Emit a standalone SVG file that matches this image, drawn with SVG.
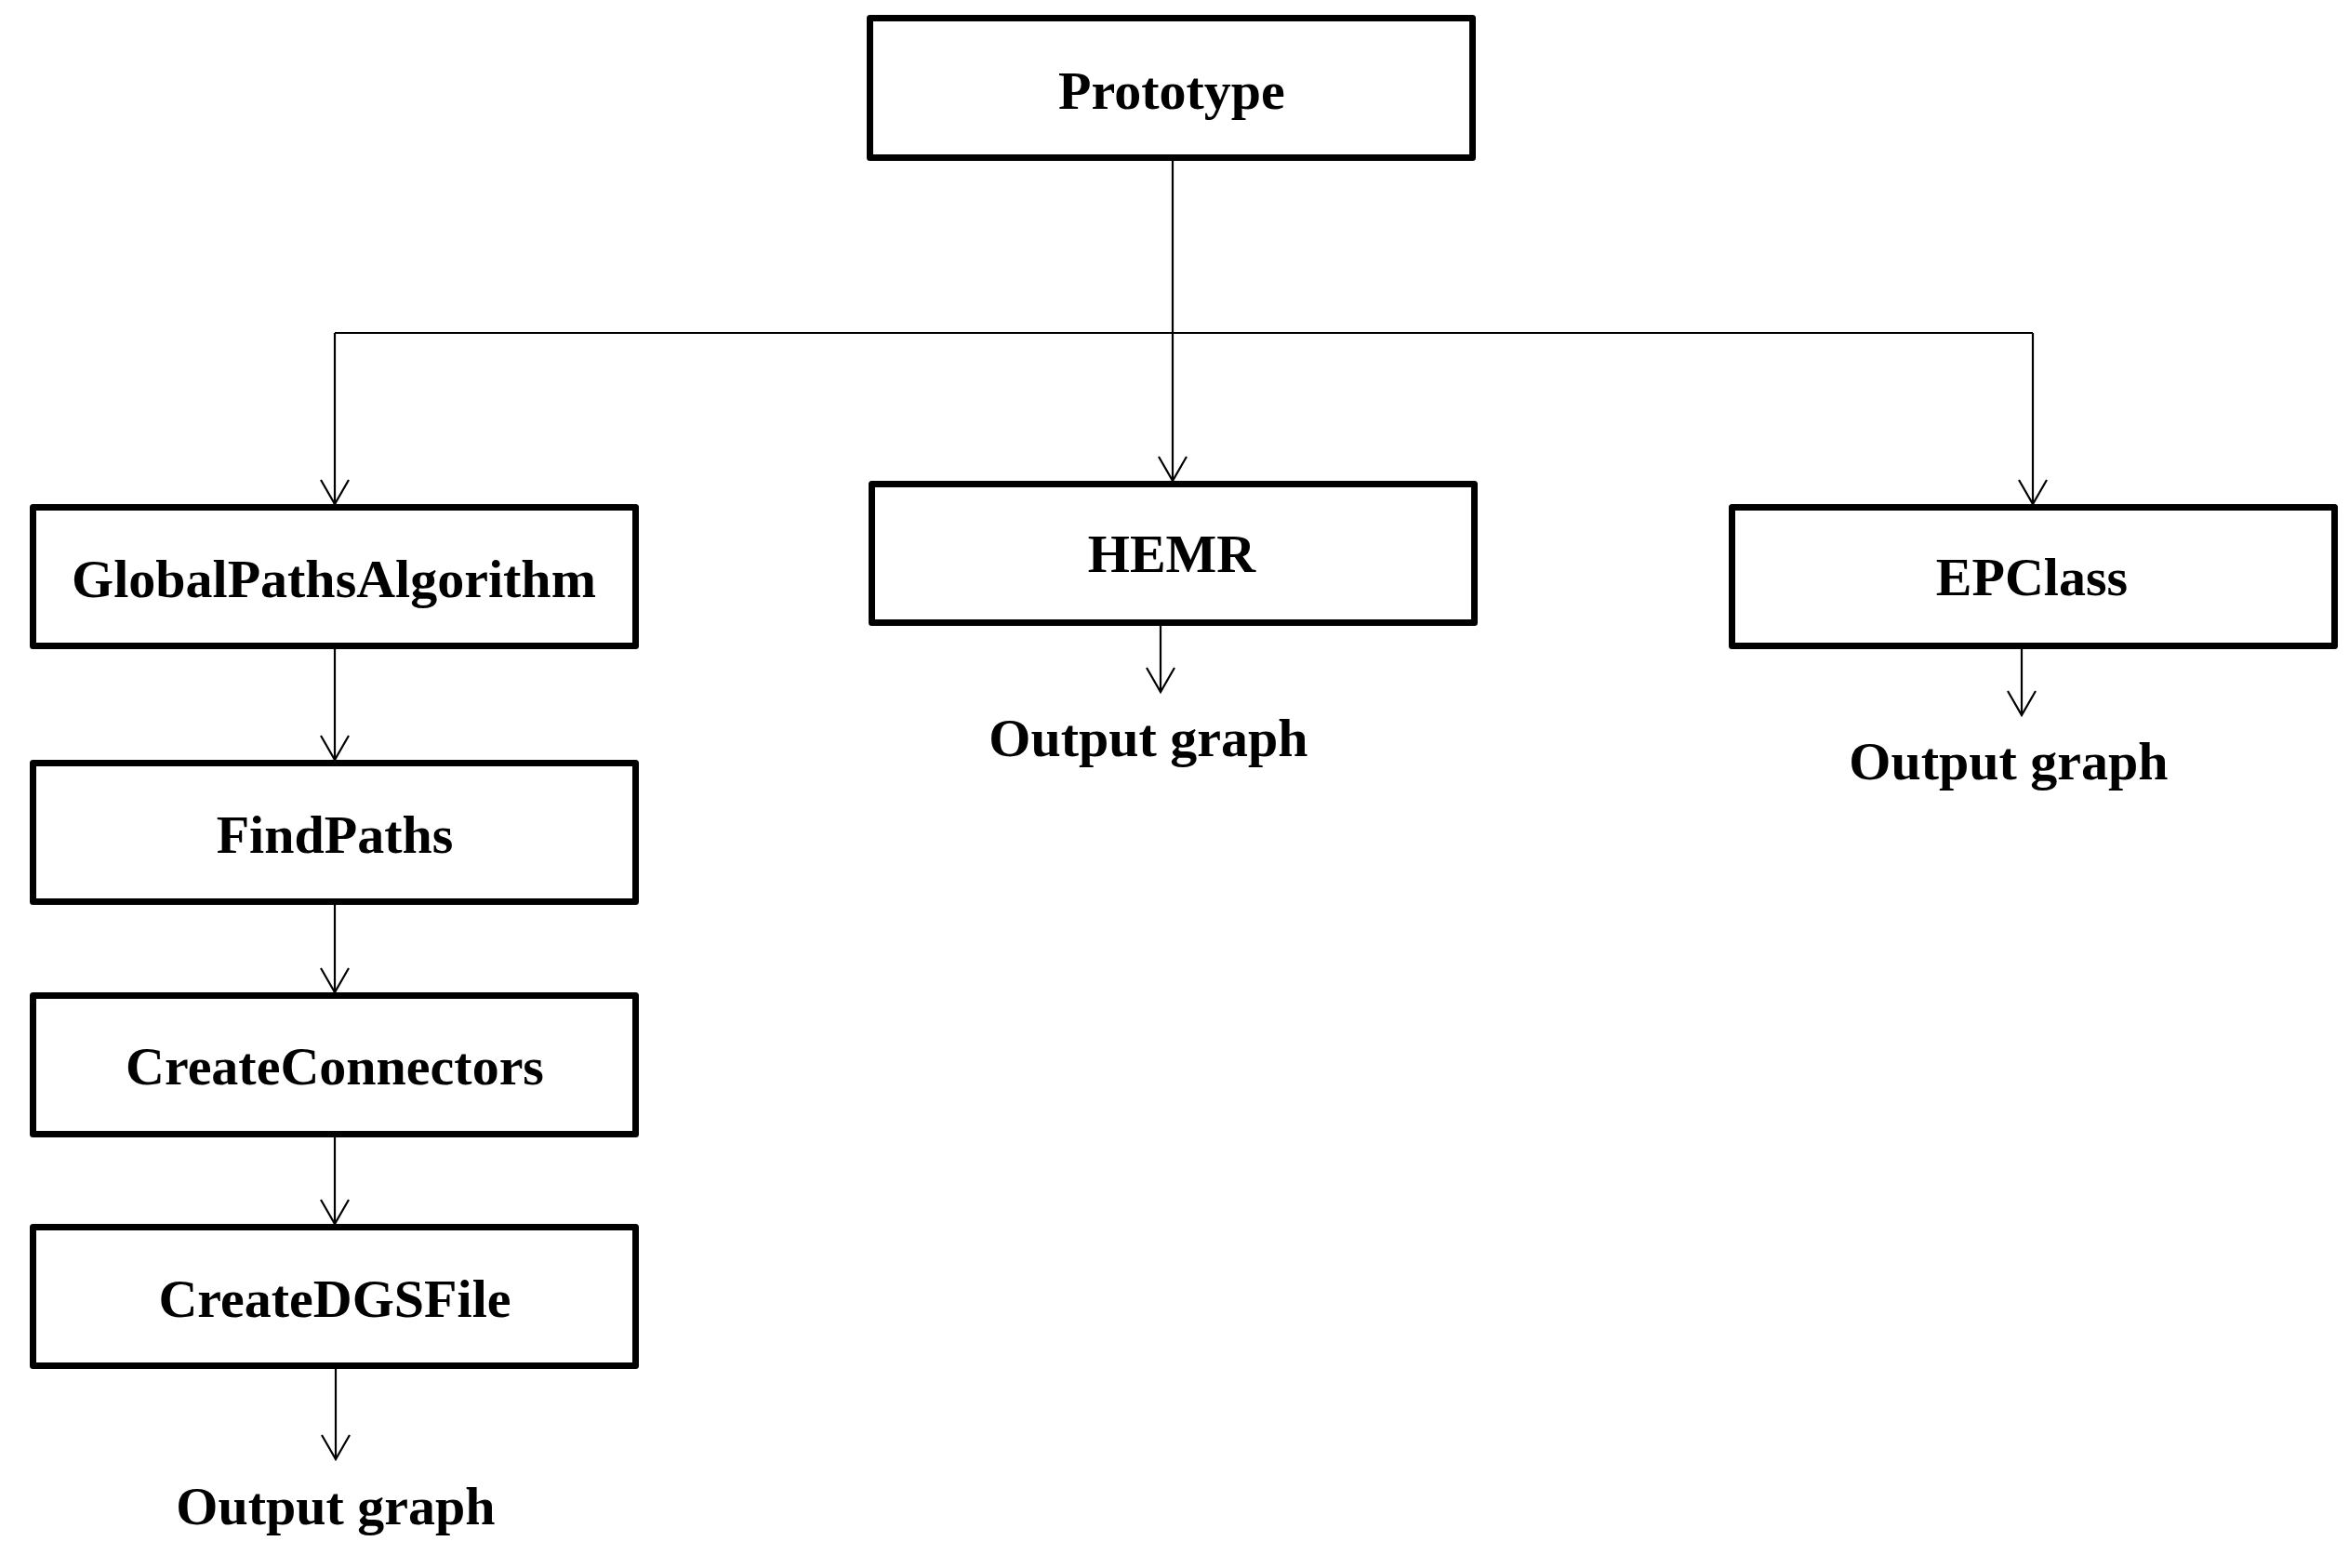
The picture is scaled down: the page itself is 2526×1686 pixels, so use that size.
<svg xmlns="http://www.w3.org/2000/svg" width="2526" height="1686" viewBox="0 0 2526 1686">
  <defs>
    <style>
      .box { fill: #ffffff; stroke: #000000; stroke-width: 7; stroke-linejoin: round; }
      .lbl { font-family: "Liberation Serif", "Times New Roman", serif; font-weight: bold; font-size: 58px; fill: #000000; text-anchor: middle; }
      .conn { fill: none; stroke: #000000; stroke-width: 2.2; }
      .arr { marker-end: url(#openV); }
    </style>
    <marker id="openV" markerUnits="userSpaceOnUse" orient="auto" refX="0" refY="0" markerWidth="40" markerHeight="40" viewBox="-30 -20 40 40" overflow="visible">
      <path d="M -26 -15 L 0 0 L -26 15" fill="none" stroke="#000000" stroke-width="2.2"/>
    </marker>
  </defs>
  <rect width="2526" height="1686" fill="#ffffff"/>

  <g id="connectors">
    <path class="conn arr" d="M 1261 173 L 1261 517"/>
    <path class="conn" d="M 360 358 L 2186 358"/>
    <path class="conn arr" d="M 360 358 L 360 542"/>
    <path class="conn arr" d="M 2186 358 L 2186 542"/>
    <path class="conn arr" d="M 360 698 L 360 817"/>
    <path class="conn arr" d="M 360 973 L 360 1067"/>
    <path class="conn arr" d="M 360 1223 L 360 1316"/>
    <path class="conn arr" d="M 361 1472 L 361 1569"/>
    <path class="conn arr" d="M 1248 673 L 1248 744"/>
    <path class="conn arr" d="M 2174 698 L 2174 769"/>
  </g>

  <g id="node-prototype">
    <rect class="box" x="935.5" y="19.5" width="648" height="150"/>
    <text class="lbl" x="1260" y="117">Prototype</text>
  </g>
  <g id="node-globalpaths">
    <rect class="box" x="35.5" y="545.5" width="648" height="149"/>
    <text class="lbl" x="359" y="642">GlobalPathsAlgorithm</text>
  </g>
  <g id="node-hemr">
    <rect class="box" x="937.5" y="520.5" width="648" height="149"/>
    <text class="lbl" x="1260" y="615">HEMR</text>
  </g>
  <g id="node-epclass">
    <rect class="box" x="1862.5" y="545.5" width="648" height="149"/>
    <text class="lbl" x="2185" y="640">EPClass</text>
  </g>
  <g id="node-findpaths">
    <rect class="box" x="35.5" y="820.5" width="648" height="149"/>
    <text class="lbl" x="360" y="917">FindPaths</text>
  </g>
  <g id="node-createconnectors">
    <rect class="box" x="35.5" y="1070.5" width="648" height="149"/>
    <text class="lbl" x="360" y="1166">CreateConnectors</text>
  </g>
  <g id="node-createdgsfile">
    <rect class="box" x="35.5" y="1319.5" width="648" height="149"/>
    <text class="lbl" x="360" y="1416">CreateDGSFile</text>
  </g>
  <g id="output-hemr">
    <text class="lbl" x="1235" y="813">Output graph</text>
  </g>
  <g id="output-epclass">
    <text class="lbl" x="2160" y="838">Output graph</text>
  </g>
  <g id="output-dgs">
    <text class="lbl" x="361" y="1639">Output graph</text>
  </g>
</svg>
